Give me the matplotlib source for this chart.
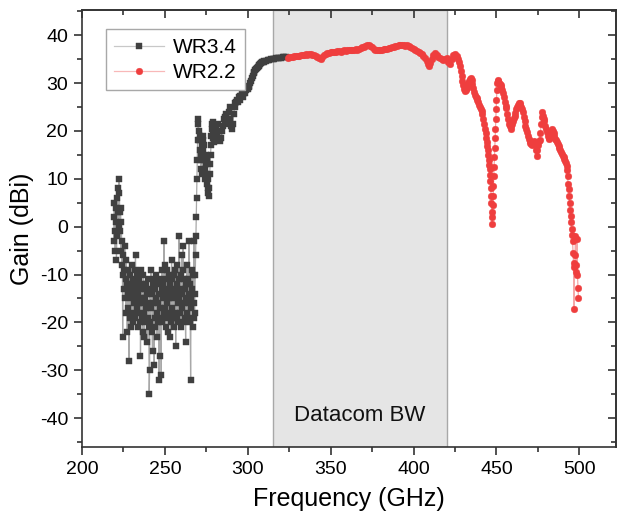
import matplotlib
matplotlib.use("Agg")
import matplotlib.pyplot as plt
from matplotlib.ticker import MultipleLocator

plt.rcParams['font.family'] = ['Liberation Sans', 'DejaVu Sans']
plt.rcParams['axes.unicode_minus'] = False

# WR3.4 band measurement: frequency (GHz)
wr34_freq = [
    219.00, 219.25, 219.50, 219.75, 220.00, 220.25, 220.50, 220.75,
    221.00, 221.25, 221.50, 221.75, 222.00, 222.25, 222.50, 222.75,
    223.00, 223.25, 223.50, 223.75, 224.00, 224.25, 224.50, 224.75,
    225.00, 225.25, 225.50, 225.75, 226.00, 226.25, 226.50, 226.75,
    227.00, 227.25, 227.50, 227.75, 228.00, 228.25, 228.50, 228.75,
    229.00, 229.25, 229.50, 229.75, 230.00, 230.25, 230.50, 230.75,
    231.00, 231.25, 231.50, 231.75, 232.00, 232.25, 232.50, 232.75,
    233.00, 233.25, 233.50, 233.75, 234.00, 234.25, 234.50, 234.75,
    235.00, 235.25, 235.50, 235.75, 236.00, 236.25, 236.50, 236.75,
    237.00, 237.25, 237.50, 237.75, 238.00, 238.25, 238.50, 238.75,
    239.00, 239.25, 239.50, 239.75, 240.00, 240.25, 240.50, 240.75,
    241.00, 241.25, 241.50, 241.75, 242.00, 242.25, 242.50, 242.75,
    243.00, 243.25, 243.50, 243.75, 244.00, 244.25, 244.50, 244.75,
    245.00, 245.25, 245.50, 245.75, 246.00, 246.25, 246.50, 246.75,
    247.00, 247.25, 247.50, 247.75, 248.00, 248.25, 248.50, 248.75,
    249.00, 249.25, 249.50, 249.75, 250.00, 250.25, 250.50, 250.75,
    251.00, 251.25, 251.50, 251.75, 252.00, 252.25, 252.50, 252.75,
    253.00, 253.25, 253.50, 253.75, 254.00, 254.25, 254.50, 254.75,
    255.00, 255.25, 255.50, 255.75, 256.00, 256.25, 256.50, 256.75,
    257.00, 257.25, 257.50, 257.75, 258.00, 258.25, 258.50, 258.75,
    259.00, 259.25, 259.50, 259.75, 260.00, 260.25, 260.50, 260.75,
    261.00, 261.25, 261.50, 261.75, 262.00, 262.25, 262.50, 262.75,
    263.00, 263.25, 263.50, 263.75, 264.00, 264.25, 264.50, 264.75,
    265.00, 265.25, 265.50, 265.75, 266.00, 266.25, 266.50, 266.75,
    267.00, 267.25, 267.50, 267.75,
    267.90, 268.10, 268.30, 268.50, 268.70, 268.90, 269.10, 269.30,
    269.50, 269.70,
    270.00, 270.25, 270.50, 270.75, 271.00, 271.25, 271.50, 271.75,
    272.00, 272.25, 272.50, 272.75, 273.00, 273.25, 273.50, 273.75,
    274.00, 274.25, 274.50, 274.75, 275.00, 275.25, 275.50, 275.75,
    276.00, 276.25, 276.50, 276.75, 277.00, 277.25, 277.50, 277.75,
    278.00, 278.25, 278.50, 278.75, 279.00, 279.25, 279.50, 279.75,
    280.0, 280.5, 281.0, 281.5, 282.0, 282.5, 283.0, 283.5,
    284.0, 284.5, 285.0, 285.5, 286.0, 286.5, 287.0, 287.5,
    288.0, 288.5, 289.0, 289.5, 290.0, 290.5, 291.0, 291.5,
    292.0, 292.5, 293.0, 293.5, 294.0, 294.5, 295.0, 295.5,
    296.0, 296.5, 297.0, 297.5, 298.0, 298.5, 299.0, 299.5,
    300.0, 300.5, 301.0, 301.5, 302.0, 302.5, 303.0, 303.5,
    304.0, 304.5, 305.0, 305.5, 306.0, 306.5, 307.0, 307.5,
    308.0, 308.5, 309.0, 309.5, 310.0, 311.0, 312.0, 313.0,
    314.0, 315.0, 316.0, 317.0, 318.0, 319.0, 320.0, 321.0,
    322.0, 323.0,
]
# WR3.4 band measurement: gain (dBi)
wr34_gain = [
    -3, 2, 5, -1, -5, 4, 1, -7,
    -2, 6, 3, 8, 0, 10, 7, 3,
    -1, 4, -5, 1, -8, -3, -23, -10,
    -6, -13, -9, -4, -15, -11, -18, -7,
    -12, -22, -14, -9, -17, -28, -13, -19,
    -10, -15, -21, -12, -8, -18, -14, -20,
    -11, -16, -13, -19, -9, -6, -15, -12,
    -17, -10, -21, -14, -18, -11, -16, -20,
    -13, -27, -15, -9, -19, -12, -22, -16,
    -10, -18, -23, -13, -15, -20, -12, -17,
    -14, -24, -11, -19, -16, -21, -35, -30,
    -13, -20, -9, -17, -14, -22, -26, -12,
    -16, -11, -29, -19, -13, -21, -15, -10,
    -18, -23, -12, -16, -20, -14, -32, -17,
    -11, -27, -19, -31, -13, -9, -20, -15,
    -12, -18, -3, -14, -17, -8, -21, -11,
    -16, -9, -19, -13, -22, -10, -15, -18,
    -12, -23, -20, -14, -7, -17, -11, -19,
    -15, -10, -21, -13, -9, -18, -25, -14,
    -12, -19, -8, -16, -20, -11, -2, -15,
    -13, -18, -10, -21, -6, -14, -17, -9,
    -4, -16, -20, -11, -13, -19, -24, -12,
    -15, -8, -18, -11, -19, -14, -3, -16,
    -12, -20, -32, -15, -17, -9, -13, -21,
    -10, -19, -3, -16,
    -18, -14, -10, -6, -2, 2, 6, 10,
    14, 18,
    22.5, 21.5, 20.0, 18.0, 16.0, 19.0, 14.0, 12.0,
    15.0, 11.0, 17.0, 19.0, 18.0, 16.0, 14.0, 17.0,
    12.0, 10.0, 13.0, 15.0, 11.0, 9.0, 14.0, 8.0,
    10.0, 7.0, 6.5, 8.0, 11.0, 13.0, 15.0, 17.0,
    19.0, 20.5, 21.5, 21.8, 20.0, 18.5, 17.6, 19.0,
    18.0, 20.0, 21.0, 19.0, 21.5, 20.0, 18.5, 17.8,
    18.5, 20.0, 21.0, 22.5, 23.0, 22.0, 23.5, 22.5,
    21.5, 24.0, 25.0, 22.5, 21.0, 20.3, 21.5, 23.5,
    25.0, 25.8, 26.0, 26.5, 26.0, 27.0, 27.3, 26.5,
    27.2, 27.8, 27.0, 28.0, 28.4, 28.0, 28.6, 29.0,
    28.8, 29.4, 29.2, 30.0, 30.5, 31.0, 31.5, 32.0,
    32.3, 32.7, 33.0, 33.2, 33.4, 33.6, 33.8, 34.0,
    34.1, 34.3, 34.4, 34.5, 34.6, 34.7, 34.8, 34.9,
    35.0, 35.1, 35.1, 35.2, 35.2, 35.3, 35.3, 35.4,
    35.4, 35.5,
]

# WR2.2 band measurement: frequency (GHz)
wr22_freq = [
    324.0, 325.0, 326.0, 327.0, 328.0, 329.0, 330.0, 331.0, 332.0, 333.0,
    334.0, 335.0, 336.0, 337.0, 338.0, 339.0, 340.0, 341.0, 342.0, 343.0,
    344.0, 345.0, 346.0, 347.0, 348.0, 349.0, 350.0, 351.0, 352.0, 353.0,
    354.0, 355.0, 356.0, 357.0, 358.0, 359.0, 360.0, 361.0, 362.0, 363.0,
    364.0, 365.0, 366.0, 367.0, 368.0, 369.0, 370.0, 371.0, 372.0, 373.0,
    374.0, 375.0, 376.0, 377.0, 378.0, 379.0, 380.0, 381.0, 382.0, 383.0,
    384.0, 385.0, 386.0, 387.0, 388.0, 389.0, 390.0, 391.0, 392.0, 393.0,
    394.0, 395.0, 396.0, 397.0, 398.0, 399.0, 400.0, 401.0, 402.0, 403.0,
    404.0, 405.0, 406.0, 407.0, 408.0, 409.0, 409.5, 410.0, 411.0, 412.0,
    413.0, 414.0, 415.0, 416.0, 417.0, 418.0, 419.0, 420.0, 421.0, 422.0,
    423.0, 424.0, 425.0, 426.0,
    427.0, 427.5, 428.0, 428.5, 429.0, 429.5, 430.0, 430.5,
    431.0, 431.5, 432.0, 432.5, 433.0, 433.5, 434.0, 434.5,
    435.0, 435.5, 436.0, 436.5, 437.0, 437.5, 438.0, 438.5,
    439.0, 439.5, 440.0, 440.5, 441.0, 441.5, 442.0, 442.5,
    443.0, 443.5, 444.0, 444.3, 444.6, 444.9, 445.2, 445.5,
    445.8, 446.0, 446.2, 446.4, 446.6, 446.8, 447.0, 447.2,
    447.4, 447.6, 447.8, 448.0, 448.2, 448.4, 448.6, 448.8,
    449.0, 449.2, 449.4, 449.6, 449.8, 450.0, 450.2, 450.4,
    450.7, 451.0, 451.5, 452.0, 452.5, 453.0, 453.5, 454.0,
    454.5, 455.0, 455.5, 456.0, 456.5, 457.0, 457.5, 458.0,
    458.5, 459.0, 459.5, 460.0, 460.5, 461.0, 461.5, 462.0,
    462.5, 463.0, 463.5, 464.0, 464.5, 465.0, 465.5, 466.0,
    466.5, 467.0, 467.5, 468.0, 468.5, 469.0, 469.5, 470.0,
    470.5, 471.0, 471.5, 472.0, 472.5, 473.0, 473.5, 474.0,
    474.3, 474.6, 475.0, 475.5, 476.0, 476.5, 477.0, 477.3,
    477.6, 478.0, 478.5, 479.0, 479.5, 480.0, 480.5, 481.0,
    481.5, 482.0, 482.5, 483.0, 483.5, 484.0, 484.5, 485.0,
    485.5, 486.0, 486.5, 487.0, 487.5, 488.0, 488.5, 489.0,
    489.5, 490.0, 490.5, 491.0, 491.5, 492.0, 492.3, 492.6,
    492.9, 493.2, 493.5, 493.8, 494.1, 494.4, 494.7, 495.0,
    495.3, 495.6, 495.9, 496.2, 496.5, 496.8, 497.1, 497.4,
    497.7, 498.0, 498.3, 498.6, 498.9, 499.2, 499.5,
]
# WR2.2 band measurement: gain (dBi)
wr22_gain = [
    35.3, 35.4, 35.5, 35.5, 35.6, 35.6, 35.7, 35.7, 35.8, 35.9,
    35.8, 36.0, 35.9, 36.0, 36.1, 35.9, 35.8, 35.6, 35.4, 35.2,
    35.1, 35.5, 35.9, 36.1, 36.2, 36.3, 36.4, 36.4, 36.5, 36.5,
    36.6, 36.6, 36.5, 36.7, 36.8, 36.7, 36.8, 36.9, 36.8, 36.9,
    37.0, 37.1, 37.0, 37.2, 37.3, 37.5, 37.6, 37.8, 37.9, 38.0,
    37.8, 37.5, 37.2, 37.0, 36.8, 36.8, 36.9, 37.0, 37.1, 37.2,
    37.2, 37.3, 37.4, 37.5, 37.5, 37.7, 37.8, 37.9, 38.0, 38.0,
    37.9, 37.8, 37.9, 37.8, 37.6, 37.4, 37.2, 37.0, 36.7, 36.5,
    36.3, 36.0, 35.6, 35.2, 34.6, 34.0, 33.5, 34.2, 35.0, 35.8,
    36.2, 35.9, 35.5, 35.2, 35.0, 34.8, 35.0, 35.2, 34.3, 34.0,
    35.0, 35.8, 36.0, 35.7,
    35.0, 34.3, 33.5, 32.5, 31.5, 30.5, 29.5, 28.8,
    28.4, 28.6, 29.0, 29.5, 30.0, 30.5, 30.8, 31.0,
    30.6, 29.8, 29.0, 28.2, 27.6, 27.0, 26.8, 26.4,
    26.0, 25.5, 25.0, 24.6, 24.2, 23.5, 22.5, 21.5,
    20.5, 19.5, 18.5, 17.7, 16.8, 16.0, 15.0, 14.0,
    12.8, 12.0, 10.8, 9.5, 8.0, 6.5, 5.0, 3.0,
    0.5, 2.0, 4.5, 6.5, 8.5, 10.5, 12.5, 14.5,
    16.5, 18.5, 20.5, 22.5, 24.5, 26.5, 28.5, 30.0,
    30.6, 30.4, 30.0, 29.8, 29.5, 29.2, 28.6, 28.0,
    27.0, 26.0, 25.3, 24.8, 23.5, 22.5, 21.5, 21.0,
    20.5, 21.0, 21.5, 22.0, 22.6, 23.2, 23.8, 24.5,
    25.0, 25.5, 25.8, 25.9, 25.5, 25.0, 24.6, 24.0,
    23.0, 22.0, 21.0, 20.3, 19.8, 19.0, 18.3, 17.8,
    17.4, 17.2, 17.0, 17.5, 17.8, 17.6, 17.2, 16.0,
    14.7, 16.0, 17.0, 17.8, 18.0, 19.5, 21.5, 23.0,
    23.9, 23.2, 22.5, 22.0, 21.0, 20.5, 19.8, 19.0,
    18.5, 18.3, 19.2, 19.8, 20.4, 20.0, 19.5, 19.0,
    18.3, 18.0, 17.6, 17.3, 16.8, 16.5, 16.0, 15.6,
    15.2, 14.8, 14.5, 14.2, 13.8, 13.4, 12.6, 11.8,
    10.5, 9.0, 7.8, 6.5, 5.0, 3.5, 2.3, 1.0,
    -0.5, -1.8, -3.0, -5.5, -7.5, -17.3, -8.5, -6.0,
    -2.0, -8.0, -9.5, -2.5, -10.0, -12.8, -14.9,
]

legend_labels = ["WR3.4", "WR2.2"]
band_start, band_stop = 315, 420
band_label = "Datacom BW"

fig = plt.figure(figsize=(6.17, 5.16), dpi=100)
ax = fig.add_axes([0.133, 0.134, 0.865, 0.847])

ax.axvspan(band_start, band_stop, facecolor="#e5e5e5", edgecolor="#a8a8a8",
           linewidth=1.0, zorder=0)
ax.text((band_start + band_stop) / 2, -39.5, band_label, ha="center",
        va="center", fontsize=16, color="#111111", zorder=1)

ax.plot(wr34_freq, wr34_gain, color="#a8a8a8", linewidth=0.9, marker="s",
        markersize=4.6, markerfacecolor="#404040", markeredgecolor="#404040",
        markeredgewidth=0.3, label=legend_labels[0], zorder=3)
ax.plot(wr22_freq, wr22_gain, color="#f5a8a8", linewidth=0.9, marker="o",
        markersize=4.8, markerfacecolor="#ef3e3e", markeredgecolor="#ef3e3e",
        markeredgewidth=0.3, label=legend_labels[1], zorder=4)

ax.set_xlim(200, 522)
ax.set_ylim(-46, 45.3)
ax.xaxis.set_major_locator(MultipleLocator(50))
ax.xaxis.set_minor_locator(MultipleLocator(25))
ax.yaxis.set_major_locator(MultipleLocator(10))
ax.yaxis.set_minor_locator(MultipleLocator(5))

for s in ax.spines.values():
    s.set_linewidth(1.2)
    s.set_color("#333333")

ax.tick_params(axis="both", which="major", direction="out", length=6,
               width=1.2, labelsize=14, color="#333333", pad=4,
               top=False, right=False)
ax.tick_params(axis="both", which="minor", direction="out", length=3.5,
               width=1.2, color="#333333", top=False, right=False)

# inward ticks on the top and right frame
ax_top = ax.secondary_xaxis("top")
ax_top.set_xticks(range(200, 525, 50))
ax_top.xaxis.set_minor_locator(MultipleLocator(25))
ax_top.tick_params(which="major", direction="in", length=6, width=1.2,
                   labeltop=False, color="#333333")
ax_top.tick_params(which="minor", direction="in", length=3.5, width=1.2,
                   color="#333333")
ax_right = ax.secondary_yaxis("right")
ax_right.set_yticks(range(-40, 45, 10))
ax_right.yaxis.set_minor_locator(MultipleLocator(5))
ax_right.tick_params(which="major", direction="in", length=6, width=1.2,
                     labelright=False, color="#333333")
ax_right.tick_params(which="minor", direction="in", length=3.5, width=1.2,
                     color="#333333")
for sa in (ax_top, ax_right):
    for s in sa.spines.values():
        s.set_linewidth(1.2)
        s.set_color("#333333")

ax.set_xlabel("Frequency (GHz)", fontsize=18, labelpad=7)
ax.set_ylabel("Gain (dBi)", fontsize=18, labelpad=4)

leg = ax.legend(loc="upper left", bbox_to_anchor=(0.045, 0.955),
                borderaxespad=0, fontsize=15, frameon=True, fancybox=False,
                framealpha=1, edgecolor="#a8a8a8", handlelength=2.4,
                handletextpad=0.4, borderpad=0.4, labelspacing=0.3)
leg.get_frame().set_linewidth(1.0)
for h in leg.get_lines():
    h.set_color("#c8c8c8")
leg.get_lines()[1].set_color("#f8b8b8")

fig.savefig("out.png", dpi=100)
